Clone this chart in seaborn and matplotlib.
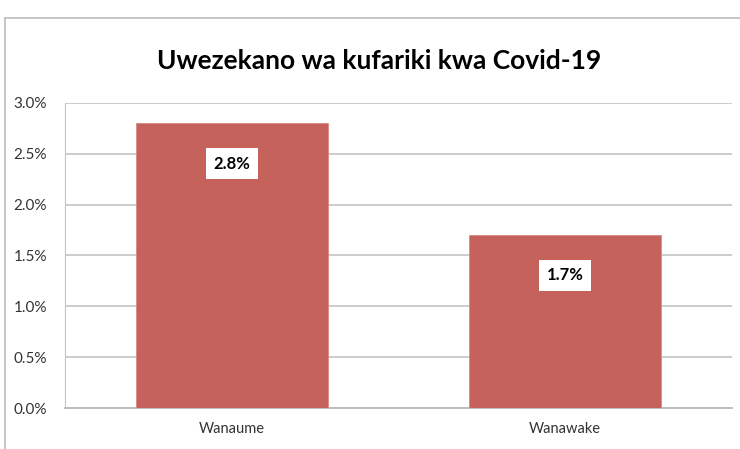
import matplotlib
matplotlib.use("Agg")
import matplotlib.pyplot as plt
import seaborn as sns
import pandas as pd
from matplotlib.lines import Line2D
from matplotlib.ticker import FuncFormatter

categories = ["Wanaume", "Wanawake"]
values = [2.8, 1.7]
value_labels = ["2.8%", "1.7%"]
title = "Uwezekano wa kufariki kwa Covid-19"

sns.set_style("white")
plt.rcParams["font.family"] = ["Lato", "DejaVu Sans"]

df = pd.DataFrame({"group": categories, "pct": values})

fig = plt.figure(figsize=(7.4, 4.49), dpi=100)
ax = fig.add_axes([65 / 740, 1 - 408 / 449, (732 - 65) / 740, (408 - 103) / 449])

sns.barplot(data=df, x="group", y="pct", color="#C6625C", saturation=1,
            width=0.575, ax=ax, zorder=3, edgecolor="#D88A85", linewidth=0.6)

ax.set_ylim(0, 3.0)
ax.set_xlim(-0.5, 1.5)
ax.set_yticks([0, 0.5, 1.0, 1.5, 2.0, 2.5, 3.0])
ax.yaxis.set_major_formatter(FuncFormatter(lambda v, p: "{:.1f}%".format(v)))
ax.grid(axis="y", color="#C4C4C4", linewidth=1.2, zorder=0)
ax.set_xlabel("")
ax.set_ylabel("")
for s in ["top", "right"]:
    ax.spines[s].set_visible(False)
ax.spines["left"].set_color("#C4C4C4")
ax.spines["bottom"].set_color("#BDBDBD")
ax.spines["bottom"].set_linewidth(1.4)
ax.tick_params(axis="y", labelsize=11, colors="#333333", pad=13, length=0)
ax.tick_params(axis="x", labelsize=10.5, colors="#333333", pad=10, length=0)

for i, (v, lab) in enumerate(zip(values, value_labels)):
    ax.annotate(lab, xy=(i, v), xytext=(0, -29), textcoords="offset points",
                ha="center", va="center", fontsize=12, fontweight="bold",
                color="black", zorder=5,
                bbox=dict(boxstyle="square,pad=0.45", fc="white", ec="none"))

fig.text(379 / 740, 1 - 61 / 449, title, ha="center", va="center",
         fontsize=19, fontweight="bold", color="black")

# outer frame of the chart box
fig.add_artist(Line2D([5 / 740, 1.0], [1 - 18 / 449, 1 - 18 / 449],
                      transform=fig.transFigure, color="#BBBBBB", linewidth=1.2))
fig.add_artist(Line2D([5 / 740, 5 / 740], [0.0, 1 - 18 / 449],
                      transform=fig.transFigure, color="#BBBBBB", linewidth=1.2))

fig.savefig("out.png", dpi=100)
